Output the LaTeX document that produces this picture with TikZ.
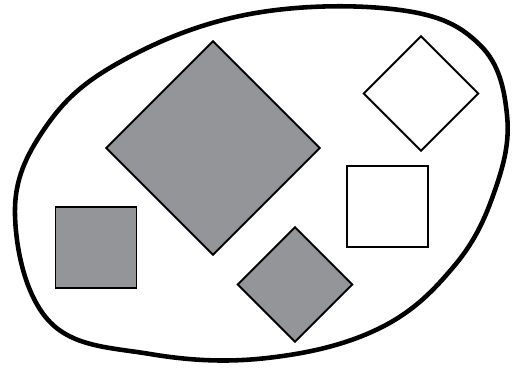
\documentclass[tikz,border=0pt]{standalone}
\usepackage{tikz}
\usetikzlibrary{positioning}
\usepackage{xcolor}
\definecolor{zgray}{RGB}{147, 149, 152}

\begin{document}
\begin{tikzpicture}[x=0.02cm, y=-0.02cm,
  tile/.style={rectangle, draw=black, fill=#1, line width=1.1pt,
               inner sep=0pt, minimum size=1.62cm},
  bigtile/.style={tile=#1, minimum size=3.02cm},
  blob/.style={line width=2.6pt, line join=round}
]
\useasboundingbox (0,0) rectangle (517,375);

% outer region
\draw[blob] plot[smooth cycle, tension=0.65] coordinates {
  (15,215) (45,128) (120,62) (250,14) (400,10) (480,45)
  (507,115) (495,190) (455,265) (380,328) (267,358)
  (150,354) (50,322)};

% tiles
\node[bigtile=zgray, rotate=45] (big)   at (213,148)   {};
\node[tile=white, rotate=45]    (wdia)  at (421,93.5)  {};
\node[tile=white]               (wsq)   at (387.5,206.5) {};
\node[tile=zgray]               (gsq)   at (96,247.5)  {};
\node[tile=zgray, rotate=45]    (gdia)  at (295,284.5) {};
\end{tikzpicture}
\end{document}
